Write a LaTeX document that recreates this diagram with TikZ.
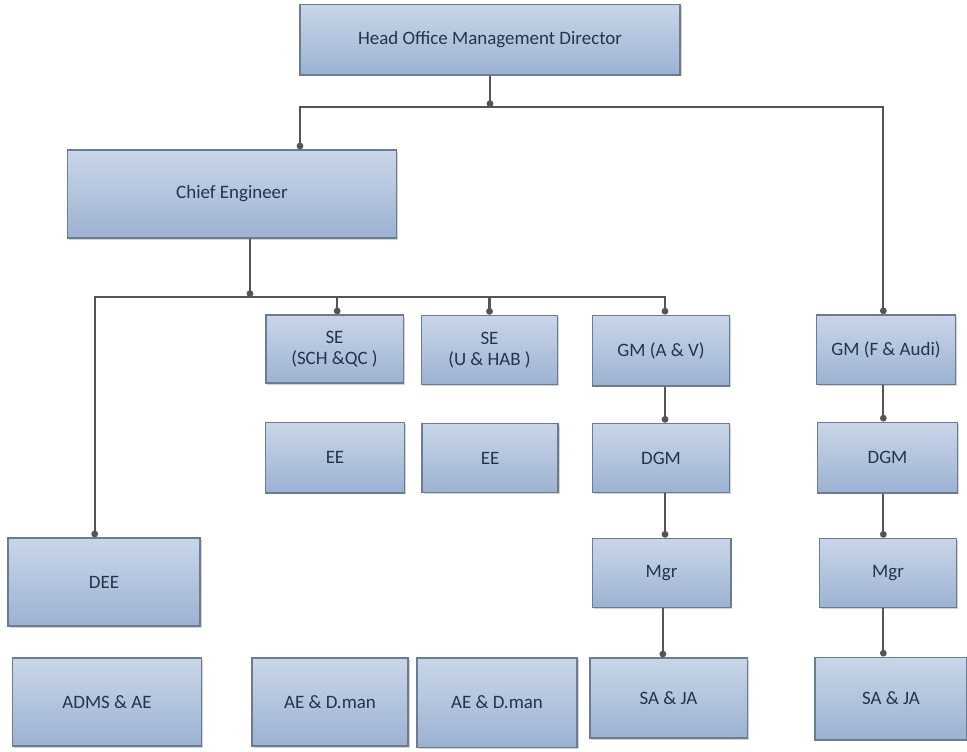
\documentclass[tikz,border=0pt]{standalone}
\usepackage{fontspec}
\setmainfont{Carlito}
\usetikzlibrary{arrows.meta,shadows}

\definecolor{cajaarriba}{HTML}{C9D6E8}
\definecolor{cajaabajo}{HTML}{9CB2D2}
\definecolor{borde}{HTML}{6B7B93}
\definecolor{texto}{HTML}{26334A}
\definecolor{linea}{HTML}{555555}

\begin{document}
\begin{tikzpicture}[x=0.75pt,y=-0.75pt,
  caja/.style={draw=borde, line width=1pt, top color=cajaarriba, bottom color=cajaabajo,
    text=texto, align=center, font=\fontsize{14.2}{16}\selectfont, inner sep=2pt,
    drop shadow={shadow xshift=1.2pt, shadow yshift=-1.2pt, opacity=0.35}},
  conector/.style={draw=linea, line width=1.6pt, -{Circle[length=5pt]}}]
\useasboundingbox (0,0) rectangle (967,751);

% Direccion y jefe de ingenieros
\node[caja, minimum width=285pt, minimum height=53pt] (head) at (490,39.5) {Head Office Management Director};
\node[caja, minimum width=247pt, minimum height=66pt] (chief) at (232,194) {Chief Engineer};

% Primera fila
\node[caja, minimum width=103pt, minimum height=51pt] (se1) at (334.5,349) {SE\\(SCH \&QC )};
\node[caja, minimum width=102pt, minimum height=52pt] (se2) at (489.5,350) {SE\\(U \& HAB )};
\node[caja, minimum width=103pt, minimum height=53pt] (gmav) at (661,350.5) {GM (A \& V)};
\node[caja, minimum width=104pt, minimum height=52pt] (gmfa) at (886,349.5) {GM (F \& Audi)};

% Segunda fila
\node[caja, minimum width=104pt, minimum height=53pt] (ee1) at (335,457.5) {EE};
\node[caja, minimum width=102pt, minimum height=52pt] (ee2) at (490,458) {EE};
\node[caja, minimum width=103pt, minimum height=52pt] (dgm1) at (661,458) {DGM};
\node[caja, minimum width=105pt, minimum height=53pt] (dgm2) at (887.5,457.5) {DGM};

% Tercera fila
\node[caja, minimum width=144pt, minimum height=66pt] (dee) at (104,582) {DEE};
\node[caja, minimum width=104pt, minimum height=52pt] (mgr1) at (661.5,573) {Mgr};
\node[caja, minimum width=103pt, minimum height=52pt] (mgr2) at (888,573) {Mgr};

% Ultima fila
\node[caja, minimum width=142pt, minimum height=66pt] (adms) at (107,702) {ADMS \& AE};
\node[caja, minimum width=117pt, minimum height=66pt] (aed1) at (330,702) {AE \& D.man};
\node[caja, minimum width=120pt, minimum height=67pt] (aed2) at (497,702.5) {AE \& D.man};
\node[caja, minimum width=118pt, minimum height=60pt] (sa1) at (668.5,698) {SA \& JA};
\node[caja, minimum width=114pt, minimum height=62pt] (sa2) at (891,698.5) {SA \& JA};

% Barras de reparto
\coordinate (bus1) at (490,107);
\coordinate (bus2) at (250,297);

% Conectores desde la direccion
\draw[conector] (head.south) -- (bus1);
\draw[conector] (bus1) -| ([xshift=51pt]chief.north);
\draw[conector] (bus1) -| ([xshift=-2pt]gmfa.north);

% Conectores desde el jefe
\draw[conector] (bus2 |- chief.south) -- (bus2);
\draw[conector] (bus2) -| ([xshift=-7pt]dee.north);
\draw[conector] (bus2) -| ([xshift=2pt]se1.north);
\draw[conector] (bus2) -| (se2.north);
\draw[conector] (bus2) -| ([xshift=3pt]gmav.north);

% Cadenas verticales
\draw[conector] ([xshift=3pt]gmav.south) -- ([xshift=3pt]dgm1.north);
\draw[conector] ([xshift=3pt]dgm1.south) -- ([xshift=3pt]dgm1.south |- mgr1.north);
\draw[conector] ([xshift=1pt]mgr1.south) -- ([xshift=1pt]mgr1.south |- sa1.north);
\draw[conector] ([xshift=-2pt]gmfa.south) -- ([xshift=-2pt]gmfa.south |- dgm2.north);
\draw[conector] ([xshift=-2pt]gmfa.south |- dgm2.south) -- ([xshift=-2pt]gmfa.south |- mgr2.north);
\draw[conector] ([xshift=-2pt]gmfa.south |- mgr2.south) -- ([xshift=-2pt]gmfa.south |- sa2.north);
\end{tikzpicture}
\end{document}
